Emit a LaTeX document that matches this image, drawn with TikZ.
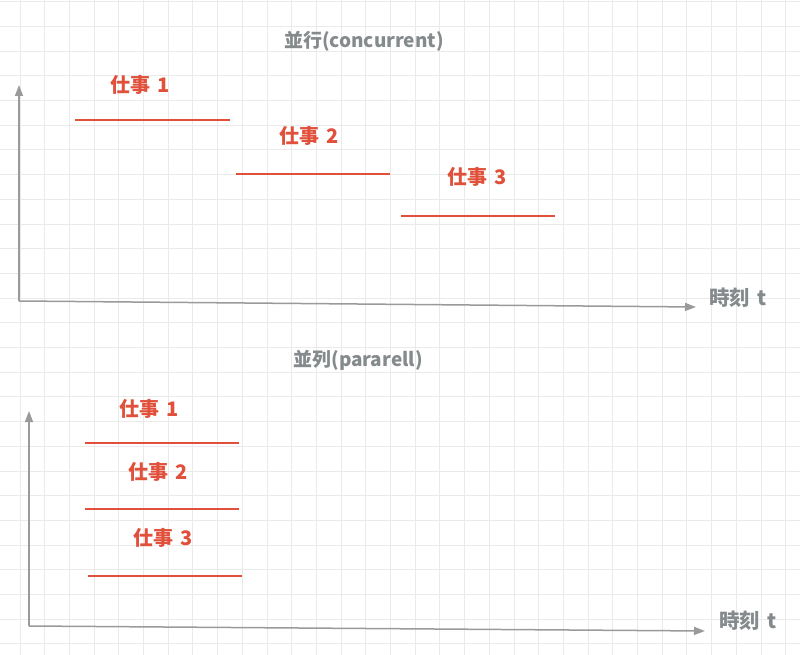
\documentclass[tikz,border=0pt]{standalone}
\usepackage{fontspec}
\newfontfamily\cjk{Noto Sans CJK JP}
\usetikzlibrary{arrows.meta}
\definecolor{gridc}{HTML}{EAEAEA}
\definecolor{axisc}{HTML}{9A9A9A}
\definecolor{taskc}{HTML}{E0503A}
\definecolor{titlec}{HTML}{858A8C}
\tikzset{
  gridline/.style={draw=gridc, line width=0.9pt},
  axisline/.style={draw=axisc, line width=1.5pt, -{Triangle[length=11pt,width=8pt]}},
  taskline/.style={draw=taskc, line width=2pt},
  tasklabel/.style={text=taskc, font=\cjk\bfseries\fontsize{20}{20}\selectfont, inner sep=0pt},
  titlelabel/.style={text=titlec, font=\cjk\bfseries\fontsize{19}{19}\selectfont, inner sep=0pt},
  timelabel/.style={text=titlec, font=\cjk\bfseries\fontsize{20.5}{20.5}\selectfont, inner sep=0pt}
}
\begin{document}
\begin{tikzpicture}[x=1pt,y=-1pt]
\useasboundingbox (0,0) rectangle (800,655);
\fill[white] (0,0) rectangle (800,655);
\foreach \i in {0,...,31} \draw[gridline] ({20+24.7*\i},0) -- ({20+24.7*\i},655);
\foreach \j in {0,...,26} \draw[gridline] (0,{1.7+24.7*\j}) -- (800,{1.7+24.7*\j});

% top diagram
\node[titlelabel] (t1) at (364,41) {並行(concurrent)};
\coordinate (o1) at (19,301);
\coordinate (y1) at (19,85);
\coordinate (x1) at (696,307);
\draw[axisline] (o1) -- (y1);
\draw[axisline] (o1) -- (x1);
\node[timelabel] (tm1) at (738,298) {時刻\hspace{0.35em}t};

\coordinate (a1s) at (75,120); \coordinate (a1e) at (230,120);
\coordinate (a2s) at (236,174); \coordinate (a2e) at (390,174);
\coordinate (a3s) at (401,216); \coordinate (a3e) at (555,216);
\draw[taskline] (a1s) -- (a1e);
\draw[taskline] (a2s) -- (a2e);
\draw[taskline] (a3s) -- (a3e);
\node[tasklabel] (l1) at (140,85) {仕事\hspace{0.35em}1};
\node[tasklabel] (l2) at (309,136) {仕事\hspace{0.35em}2};
\node[tasklabel] (l3) at (477,177) {仕事\hspace{0.35em}3};

% bottom diagram
\node[titlelabel] (t2) at (358,360) {並列(pararell)};
\coordinate (o2) at (29,626);
\coordinate (y2) at (29,411);
\coordinate (x2) at (705,631);
\draw[axisline] (o2) -- (y2);
\draw[axisline] (o2) -- (x2);
\node[timelabel] (tm2) at (748,621) {時刻\hspace{0.35em}t};

\coordinate (b1s) at (85,443); \coordinate (b1e) at (239,443);
\coordinate (b2s) at (85,509); \coordinate (b2e) at (239,509);
\coordinate (b3s) at (88,576); \coordinate (b3e) at (242,576);
\draw[taskline] (b1s) -- (b1e);
\draw[taskline] (b2s) -- (b2e);
\draw[taskline] (b3s) -- (b3e);
\node[tasklabel] (m1) at (149,409) {仕事\hspace{0.35em}1};
\node[tasklabel] (m2) at (158,472) {仕事\hspace{0.35em}2};
\node[tasklabel] (m3) at (163,538) {仕事\hspace{0.35em}3};
\end{tikzpicture}
\end{document}
